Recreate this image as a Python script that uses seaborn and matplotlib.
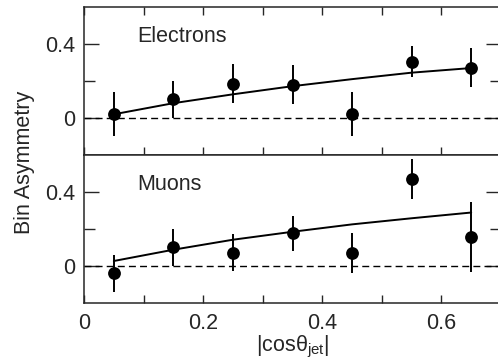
import numpy as np
import pandas as pd
import matplotlib
matplotlib.use("Agg")
import matplotlib.pyplot as plt
import seaborn as sns

# ---- data ----
bin_centers = [0.05, 0.15, 0.25, 0.35, 0.45, 0.55, 0.65]
electron_asym = [0.02, 0.10, 0.185, 0.18, 0.022, 0.305, 0.272]
electron_err = [0.12, 0.10, 0.105, 0.107, 0.12, 0.083, 0.104]
electron_fit = [0.02, 0.08, 0.128, 0.172, 0.21, 0.245, 0.27]
muon_asym = [-0.04, 0.10, 0.072, 0.177, 0.07, 0.468, 0.157]
muon_err = [0.10, 0.10, 0.10, 0.095, 0.11, 0.108, 0.187]
muon_fit = [0.027, 0.088, 0.142, 0.185, 0.225, 0.258, 0.289]
panel_labels = ["Electrons", "Muons"]
x_ticks = [0, 0.2, 0.4, 0.6]
x_tick_labels = ["0", "0.2", "0.4", "0.6"]
y_ticks = [0, 0.4]
y_tick_labels = ["0", "0.4"]

sns.set_style("ticks")
plt.rcParams['font.family'] = ['Liberation Sans', 'DejaVu Sans']
plt.rcParams['mathtext.default'] = 'regular'

FS = 15.5

fig = plt.figure(figsize=(4.98, 3.64), dpi=100)
W = 0.8373
ax_top = fig.add_axes([0.1687, 0.5742, W, 0.4066])
ax_bot = fig.add_axes([0.1687, 0.1676, W, 0.4066])

series = [(ax_top, electron_asym, electron_err, electron_fit, panel_labels[0]),
          (ax_bot, muon_asym, muon_err, muon_fit, panel_labels[1])]

for i, (ax, vals, errs, fit, lab) in enumerate(series):
    df = pd.DataFrame({"x": bin_centers, "y": vals, "err": errs, "fit": fit})
    ax.axhline(0, color='black', lw=1.0, ls=(0, (5, 3)), zorder=1)
    sns.lineplot(data=df, x="x", y="fit", ax=ax, color='black', lw=1.4, zorder=2)
    ax.errorbar(df["x"], df["y"], yerr=df["err"], fmt='none', ecolor='black',
                elinewidth=1.4, capsize=0, zorder=3)
    sns.scatterplot(data=df, x="x", y="y", ax=ax, color='black', s=85,
                    edgecolor='black', linewidth=0, zorder=4, legend=False)
    ax.set_xlim(0, 0.7)
    ax.set_ylim(-0.2, 0.6)
    ax.text(0.089, 0.44, lab, fontsize=FS, ha='left', va='center')
    ax.set_xlabel("")
    ax.set_ylabel("")
    ax.set_yticks(y_ticks)
    ax.set_yticklabels(y_tick_labels)
    ax.set_yticks([0.2], minor=True)
    ax.set_xticks(np.arange(0.1, 0.7, 0.1), minor=True)
    for s in ax.spines.values():
        s.set_visible(True)
        s.set_linewidth(1.1)
    ax.tick_params(axis='y', which='major', direction='in', length=11, width=1.0,
                   left=True, right=True, labelsize=FS, pad=6)
    ax.tick_params(axis='y', which='minor', direction='in', length=8, width=1.0,
                   left=True, right=True)
    ax.tick_params(axis='x', which='both', direction='in', length=6, width=1.0,
                   bottom=True, top=(i == 0), labelsize=FS, pad=7)

ax_top.set_xticks(x_ticks)
ax_top.tick_params(axis='x', labelbottom=False)
ax_bot.set_xticks(x_ticks)
ax_bot.set_xticklabels(x_tick_labels)
ax_bot.set_xlabel("|cosθ$_{jet}$|", fontsize=FS, labelpad=0)

fig.text(0.05, 0.555, "Bin Asymmetry", rotation=90, fontsize=FS,
         ha='center', va='center')

fig.savefig("out.png", dpi=100)
